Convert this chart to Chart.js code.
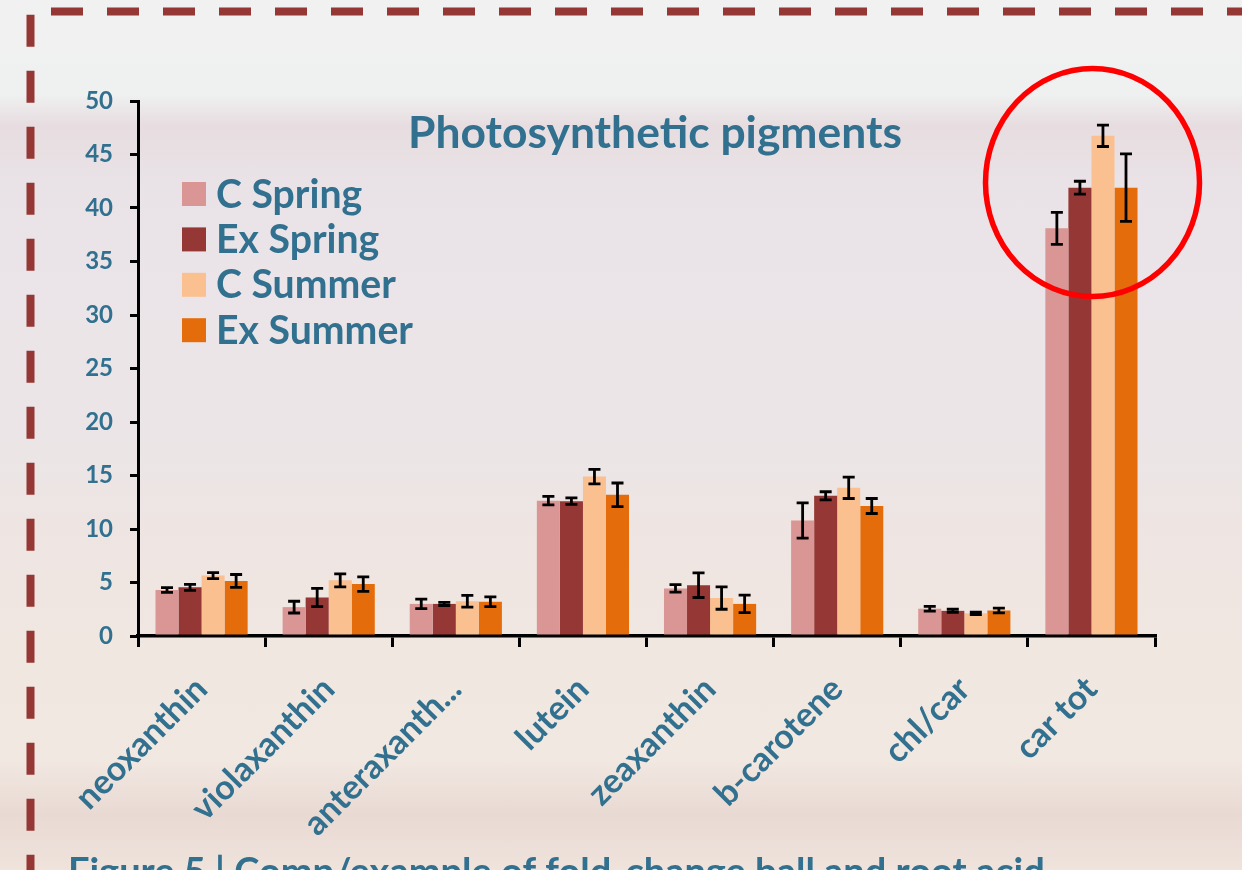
<!DOCTYPE html>
<html><head><meta charset="utf-8">
<script src="https://cdn.jsdelivr.net/npm/chart.js@4/dist/chart.umd.min.js"></script>
<style>
html,body{margin:0;padding:0;width:1242px;height:870px;overflow:hidden;}
body{background:linear-gradient(to bottom,#f1f1f1 0px,#eff0f0 95px,#e7dde0 125px,#e9e2e6 180px,#ebe5e9 300px,#ebe5e8 420px,#eee5e3 520px,#f0e7e1 640px,#f1e8e1 760px,#e9d9d3 815px,#efe3dc 870px);}
#wrap{position:relative;width:1242px;height:870px;}
canvas{display:block;}
</style></head><body>
<div id="wrap"><canvas id="c" width="1242" height="870"></canvas></div>
<script>
// ---- data ----
const categories = ['neoxanthin','violaxanthin','anteraxanth...','lutein','zeaxanthin','b-carotene','chl/car','car tot'];
const seriesNames = ['C Spring','Ex Spring','C Summer','Ex Summer'];
const cSpring     = [4.3, 2.7, 3.0, 12.65, 4.45, 10.8, 2.55, 38.1];
const cSpringErr  = [0.22, 0.55, 0.45, 0.4, 0.35, 1.65, 0.22, 1.5];
const exSpring    = [4.55, 3.6, 3.0, 12.6, 4.75, 13.1, 2.35, 41.9];
const exSpringErr = [0.28, 0.85, 0.15, 0.3, 1.15, 0.38, 0.15, 0.6];
const cSummer     = [5.65, 5.2, 3.25, 14.9, 3.55, 13.85, 2.12, 46.75];
const cSummerErr  = [0.28, 0.6, 0.55, 0.68, 1.05, 1.0, 0.12, 1.0];
const exSummer    = [5.15, 4.85, 3.2, 13.2, 3.0, 12.15, 2.38, 41.9];
const exSummerErr = [0.6, 0.68, 0.45, 1.1, 0.82, 0.7, 0.22, 3.15];
const yTickLabels = [0, 5, 10, 15, 20, 25, 30, 35, 40, 45, 50];
const titleText = 'Photosynthetic pigments';
const captionText = 'Figure 5 | Comp/example of fold-change ball and root acid';

// ---- styles ----
const colors = ['#DA9694', '#953735', '#FAC090', '#E46C0A'];
const textBlue = '#31708f';
const FONT = 'Lato, "Open Sans", sans-serif';

const seriesValues = [cSpring, exSpring, cSummer, exSummer];
const seriesErrors = [cSpringErr, exSpringErr, cSummerErr, exSummerErr];

const bgPlugin = {
  id: 'bgBorder',
  beforeDraw(chart) {
    const ctx = chart.ctx;
    ctx.save();
    ctx.strokeStyle = '#953735';
    ctx.lineWidth = 8;
    ctx.setLineDash([32, 24]);
    ctx.beginPath(); ctx.moveTo(51, 11.5); ctx.lineTo(1300, 11.5); ctx.stroke();
    ctx.beginPath(); ctx.moveTo(30.5, 14.7); ctx.lineTo(30.5, 900); ctx.stroke();
    ctx.restore();
  }
};

const errorBarPlugin = {
  id: 'errorBars',
  afterDatasetsDraw(chart) {
    const ctx = chart.ctx, ys = chart.scales.y;
    ctx.save();
    ctx.strokeStyle = '#000';
    ctx.lineWidth = 2.8;
    chart.data.datasets.forEach((ds, i) => {
      const meta = chart.getDatasetMeta(i);
      meta.data.forEach((bar, j) => {
        const v = ds.data[j], e = ds.errors[j];
        const t = ys.getPixelForValue(v + e), b = ys.getPixelForValue(v - e);
        ctx.beginPath();
        ctx.moveTo(bar.x, t); ctx.lineTo(bar.x, b);
        ctx.moveTo(bar.x - 6, t); ctx.lineTo(bar.x + 6, t);
        ctx.moveTo(bar.x - 6, b); ctx.lineTo(bar.x + 6, b);
        ctx.stroke();
      });
    });
    ctx.restore();
  }
};

const overlayPlugin = {
  id: 'overlay',
  afterDraw(chart) {
    const ctx = chart.ctx;
    ctx.save();
    // red highlight circle
    ctx.strokeStyle = '#ff0000';
    ctx.lineWidth = 5.5;
    ctx.beginPath();
    ctx.ellipse(1092.5, 182.5, 107, 114, 0, 0, Math.PI * 2);
    ctx.stroke();
    // title
    ctx.fillStyle = textBlue;
    ctx.font = 'bold 40px ' + FONT;
    let w = ctx.measureText(titleText).width;
    let fs = 40 * 494 / w;
    ctx.font = 'bold ' + fs.toFixed(2) + 'px ' + FONT;
    ctx.textAlign = 'center';
    ctx.textBaseline = 'alphabetic';
    ctx.fillText(titleText, 655, 148);
    // legend
    ctx.font = 'bold 40px ' + FONT;
    w = ctx.measureText('Ex Summer').width;
    fs = 40 * 197 / w;
    ctx.font = 'bold ' + fs.toFixed(2) + 'px ' + FONT;
    ctx.textAlign = 'left';
    ctx.textBaseline = 'middle';
    chart.data.datasets.forEach((ds, i) => {
      const y0 = 182 + i * 45.4;
      ctx.fillStyle = ds.backgroundColor;
      ctx.fillRect(182, y0, 24, 24);
      ctx.fillStyle = textBlue;
      ctx.fillText(ds.label, 216, y0 + 13);
    });
    // caption (cut at bottom)
    ctx.font = 'bold 38px ' + FONT;
    ctx.textBaseline = 'alphabetic';
    ctx.fillText(captionText, 68, 885);
    ctx.restore();
  }
};

const chart = new Chart(document.getElementById('c'), {
  type: 'bar',
  data: {
    labels: categories,
    datasets: seriesNames.map((name, i) => ({
      label: name,
      data: seriesValues[i],
      errors: seriesErrors[i],
      backgroundColor: colors[i],
      borderWidth: 0,
      categoryPercentage: 0.725,
      barPercentage: 1.0
    }))
  },
  options: {
    responsive: false,
    animation: false,
    devicePixelRatio: 1,
    layout: { padding: { top: 101, right: 87, left: 0, bottom: 0 } },
    plugins: { legend: { display: false }, title: { display: false }, tooltip: { enabled: false } },
    scales: {
      x: {
        afterFit(s) { s.height = 234; },
        border: { display: true, color: '#000', width: 3.5 },
        grid: { display: true, drawOnChartArea: false, drawTicks: true, tickLength: 11, lineWidth: 3, color: '#000', offset: true },
        ticks: {
          minRotation: 45, maxRotation: 45, autoSkip: false, padding: 22,
          color: textBlue, font: { family: FONT, size: 34, weight: 'bold' }
        }
      },
      y: {
        min: yTickLabels[0], max: yTickLabels[yTickLabels.length - 1],
        afterFit(s) { s.width = 138; },
        afterBuildTicks(s) { s.ticks = yTickLabels.map(v => ({ value: v })); },
        border: { display: true, color: '#000', width: 3 },
        grid: { display: true, drawOnChartArea: false, drawTicks: true, tickLength: 8, lineWidth: 3, color: '#000' },
        ticks: {
          padding: 17,
          color: textBlue, font: { family: FONT, size: 24, weight: 'bold' }
        }
      }
    }
  },
  plugins: [bgPlugin, errorBarPlugin, overlayPlugin]
});
</script>
</body></html>
